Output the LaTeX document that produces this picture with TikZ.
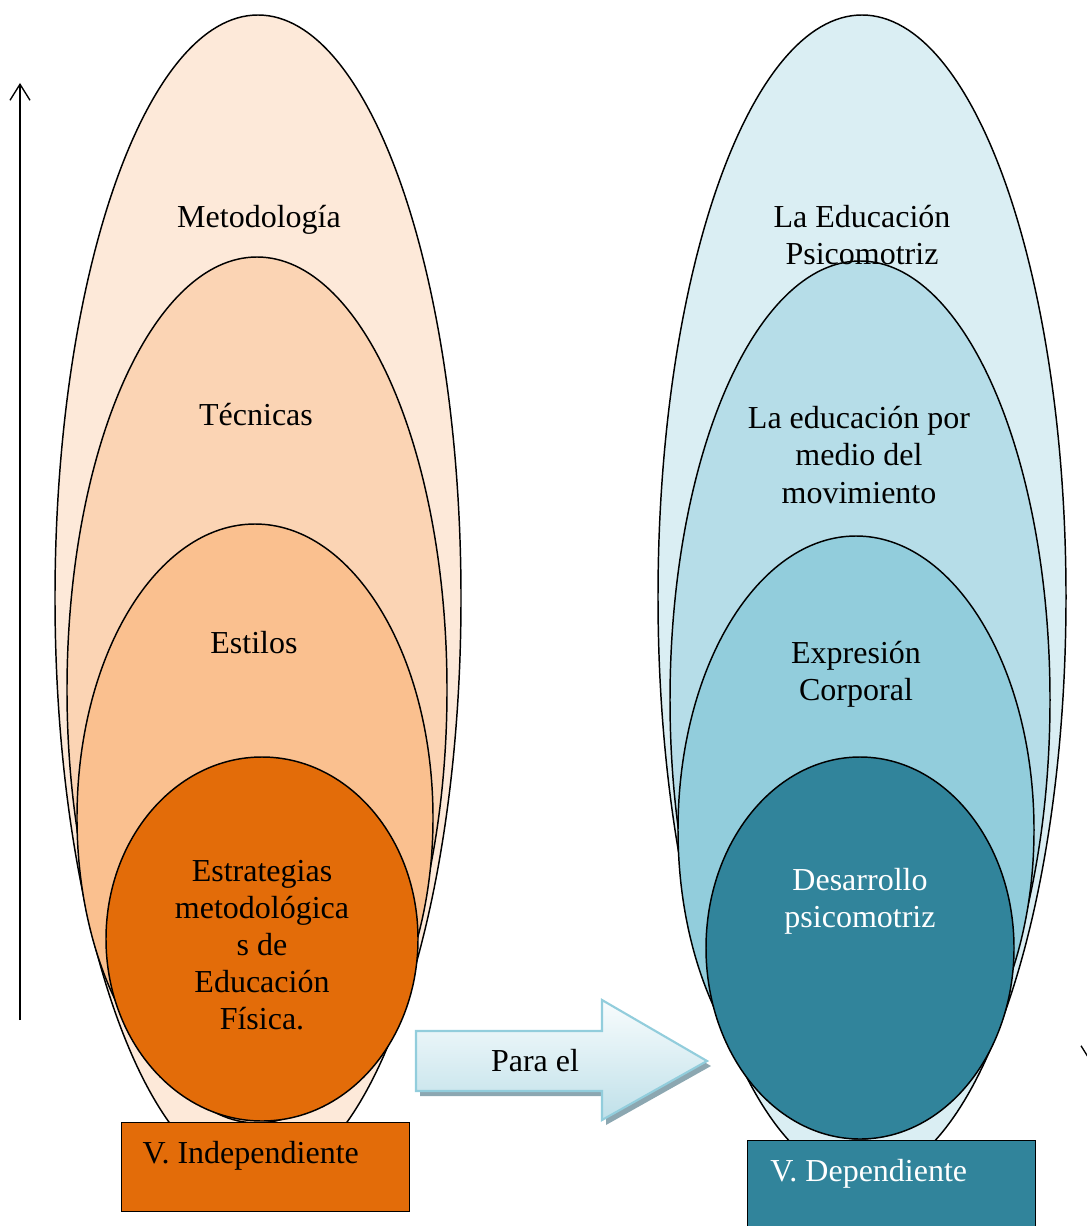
\documentclass[tikz,border=0pt]{standalone}
\usepackage{fontspec}
\setmainfont{Liberation Serif}
\usetikzlibrary{shapes,arrows.meta}
\definecolor{peachA}{HTML}{FDE9D9}
\definecolor{peachB}{HTML}{FBD4B4}
\definecolor{peachC}{HTML}{FAC08F}
\definecolor{orangeD}{HTML}{E36C09}
\definecolor{blueA}{HTML}{DAEEF3}
\definecolor{blueB}{HTML}{B6DDE8}
\definecolor{blueC}{HTML}{92CDDC}
\definecolor{tealD}{HTML}{31849B}
\definecolor{arrowtop}{HTML}{F8FCFD}
\definecolor{arrowbot}{HTML}{BFE0E9}
\definecolor{arrowshadow}{HTML}{8CA7B1}

\begin{document}
\begin{tikzpicture} [
                x=0.375pt,
                y=-0.375pt,
                bubble/.style={ellipse,draw=black,line width=0.55pt,inner sep=0pt},
                txt/.style={align=center,inner sep=0pt,font=\fontsize{12pt}{13.9pt}\selectfont},
                varbox/.style={rectangle,draw=black,line width=0.5pt,minimum width=108pt,anchor=north west},
                axis/.style={draw,line width=0.5pt,-{Straight Barb[length=6pt,width=7.5pt]}},
                block arrow/.style={draw=blueC,line width=0.8pt,top color=arrowtop,bottom color=arrowbot}
            ]
        \clip (0,0) rectangle (1087,1226);
        % First we draw the ellipses, outer ones first
            \foreach \pos/\name/\w/\h/\col in {
                {(258,598)/metod/152.25pt/437.25pt/peachA},
                {(257,690)/tecn/142.5pt/324.75pt/peachB},
                {(255,818)/estil/133.5pt/220.5pt/peachC},
                {(262,939)/estrat/117pt/136.5pt/orangeD},
                {(862,597)/psico/153pt/436.5pt/blueA},
                {(860,700)/movim/142.5pt/329.25pt/blueB},
                {(856,830)/expres/133.5pt/220.5pt/blueC},
            {(860,948)/desarr/115.5pt/143.25pt/tealD}}
            \node[bubble,fill=\col,minimum width=\w,minimum height=\h] (\name) at \pos {};
        % the two variable boxes
            \node[varbox,fill=orangeD,minimum height=33.4pt] (indep) at (121,1122) {};
            \node[varbox,fill=tealD,minimum height=35pt] (dep) at (747,1140) {};
            \node[txt,anchor=base west] (indeplab) at ([xshift=7.9pt,yshift=-15.4pt]indep.north west) {V. Independiente};
            \node[txt,anchor=base west,text=white] (deplab) at ([xshift=8.6pt,yshift=-15.4pt]dep.north west) {V. Dependiente};
        % block arrow with its shadow
            \fill[arrowshadow,shift={(4,5)}] (416,1031) -- (602,1031) -- (602,1000) -- (707,1061)
                -- (602,1120) -- (602,1091) -- (416,1091) -- cycle;
            \path[block arrow] (416,1031) -- (602,1031) -- (602,1000) -- (707,1061)
                -- (602,1120) -- (602,1091) -- (416,1091) -- cycle;
            \node[txt,anchor=base] (para) at (535,1071) {Para el};
        % texts of the ellipses
            \node[txt,anchor=base] (lmetod) at (259,228) {Metodología};
            \node[txt,anchor=base] (ltecn) at (256,425) {Técnicas};
            \node[txt,anchor=base] (lestil) at (254,653) {Estilos};
            \node[txt] (lestrat) at (262,945) {Estrategias\\metodológica\\s de\\Educación\\Física.};
            \node[txt] (lpsico) at (862,235) {La Educación\\Psicomotriz};
            \node[txt] (lmovim) at (859,455) {La educación por\\medio del\\movimiento};
            \node[txt] (lexpres) at (856,674) {Expresión\\Corporal};
            \node[txt,text=white] (ldesarr) at (860,901) {Desarrollo\\psicomotriz};
        % the two side arrows
            \coordinate (upA) at (20,1020);
            \coordinate (upB) at (20,83);
            \coordinate (downA) at (1091,83);
            \coordinate (downB) at (1091,1063);
            \path[axis] (upA) -- (upB);
            \path[axis] (downA) -- (downB);
        \end{tikzpicture}
\end{document}
